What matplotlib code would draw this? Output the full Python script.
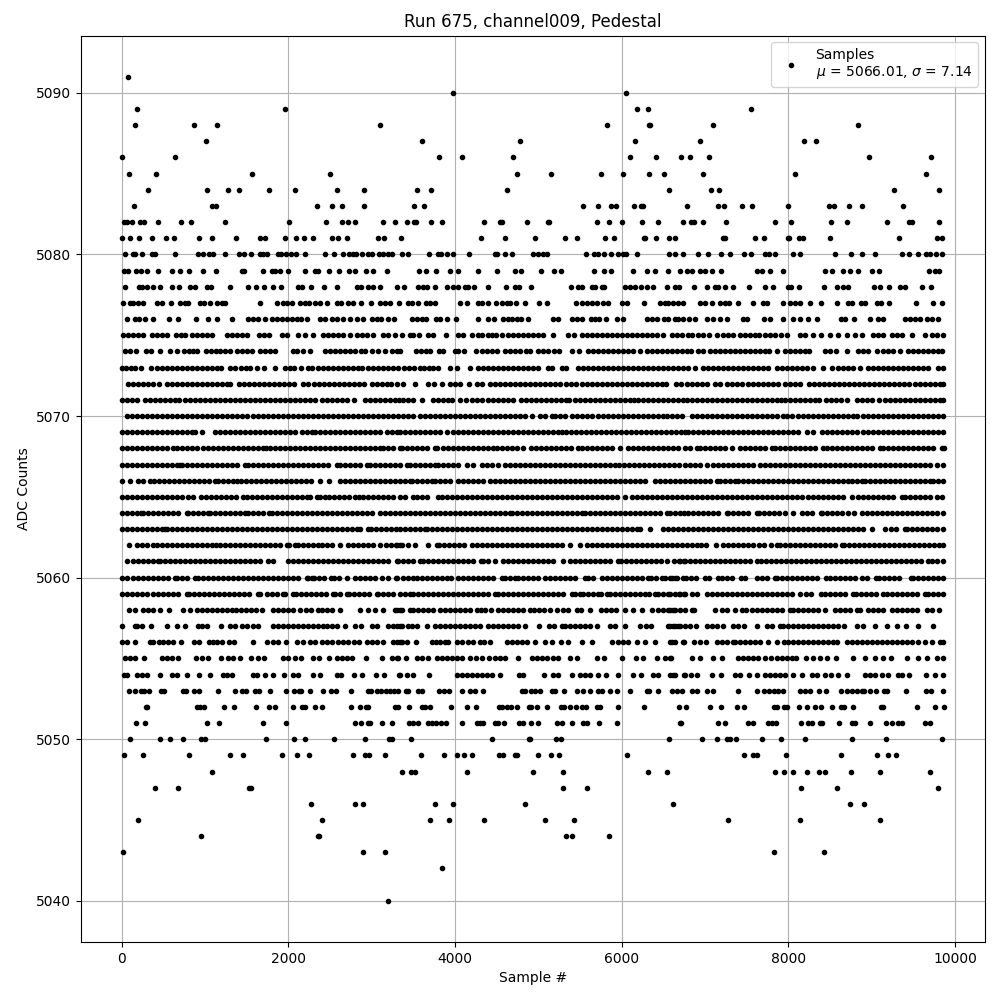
import numpy as np
import matplotlib
matplotlib.use("Agg")
import matplotlib.pyplot as plt

# Sample positions, one list per ADC level.
s5091 = [81]
s5090 = [3981, 6057]
s5089 = [189, 1965, 6189, 6321, 7557]
s5088 = [165, 873, 1149, 3105, 5829, 6333, 6345, 7101, 8841]
s5087 = [1017, 3609, 4785, 6165, 6945, 8193, 8337]
s5086 = [0, 645, 3813, 4089, 4701, 6105, 6417, 6717, 6825, 7053, 8973, 9717]
s5085 = [93, 417, 1569, 2505, 4749, 5157, 5757, 6021, 6333, 6513, 6981, 8085, 9657]
s5084 = [321, 1029, 1281, 1413, 1773, 2085, 2589, 2913, 3549, 3717, 4629, 6573, 7077, 7173, 9273, 9805]
s5083 = [153, 1089, 1137, 2349, 2529, 2649, 2913, 3513, 3633, 5541, 5721, 5877, 5937, 6153, 6237, 6261, 6789, 7161, 7233, 7449, 7569, 8001, 8493, 8553, 8733, 8889, 9381]
s5082 = [33, 61, 129, 225, 273, 441, 717, 837, 1245, 2013, 2457, 2649, 2721, 2805, 3141, 3277, 3429, 3513, 3537, 3717, 3849, 4353, 4545, 4569, 4869, 5121, 5129, 5709, 5853, 6009, 6249, 6441, 6741, 6837, 6873, 6981, 7257, 7845, 8037, 8517, 8709, 9189, 9453, 9489, 9813]
s5081 = [0, 105, 213, 369, 537, 633, 933, 1089, 1377, 1665, 1725, 1965, 2097, 2193, 2301, 2529, 2601, 2709, 3081, 3153, 3357, 4317, 4605, 4965, 5325, 5469, 5805, 5913, 6273, 6285, 6417, 6573, 6645, 7221, 7241, 7605, 7713, 8001, 8009, 8133, 8181, 8505, 9333, 9789, 9849]
s5080 = [45, 141, 165, 249, 369, 405, 645, 921, 981, 1053, 1101, 1245, 1413, 1473, 1557, 1665, 1701, 1749, 1881, 1917, 1977, 2037, 2097, 2205, 2445, 2553, 2661, 2733, 2781, 2817, 2889, 2961, 3009, 3093, 3141, 3201, 3249, 3369, 3441, 3693, 3801, 3837, 3909, 3981, 4173, 4485, 4509, 4605, 4689, 4941, 5001, 5061, 5109, 5577, 5673, 5721, 5793, 5877, 5961, 6021, 6057, 6189, 6573, 6645, 6741, 6921, 7041, 7197, 7305, 7473, 7557, 7725, 7773, 7845, 8061, 8145, 8565, 8757, 8889, 9045, 9369, 9453, 9561, 9657, 9705, 9777, 9849]
s5079 = [33, 81, 173, 237, 309, 441, 609, 705, 813, 981, 1137, 1449, 1473, 1701, 1809, 1845, 1905, 2001, 2205, 2325, 2361, 2493, 2613, 2733, 2805, 2937, 3021, 3189, 3573, 3657, 3777, 3945, 4041, 4281, 4509, 4725, 4797, 5037, 5193, 5277, 5673, 5793, 5877, 6141, 6309, 6405, 6561, 6705, 6789, 6849, 6945, 7005, 7089, 7197, 7629, 7689, 7785, 7941, 8445, 8529, 8661, 8745, 8841, 9009, 9093, 9693, 9765, 9813]
s5078 = [40, 212, 240, 308, 380, 460, 604, 684, 820, 880, 1028, 1076, 1304, 1512, 1608, 1712, 1820, 1916, 2120, 2160, 2276, 2432, 2580, 2820, 2868, 2960, 3020, 3100, 3308, 3392, 3552, 3620, 3660, 3764, 3900, 3980, 4040, 4120, 4152, 4232, 4400, 4616, 4720, 4768, 4916, 5392, 5480, 5528, 5640, 5680, 5760, 5792, 6040, 6100, 6160, 6228, 6308, 6380, 6540, 6640, 6688, 6872, 7020, 7120, 7160, 7240, 7340, 7532, 7720, 7820, 8000, 8028, 8132, 8432, 8580, 8660, 8720, 9028, 9100, 9212, 9340, 9400, 9600, 9708]
s5077 = [12, 100, 140, 200, 260, 428, 480, 588, 700, 760, 800, 940, 988, 1060, 1148, 1200, 1240, 1664, 1860, 1940, 1980, 2040, 2140, 2200, 2252, 2320, 2380, 2460, 2580, 2628, 2720, 2780, 2868, 2988, 3100, 3160, 3220, 3332, 3440, 3488, 3552, 3648, 3700, 3760, 4060, 4148, 4272, 4320, 4392, 4488, 4568, 4620, 4660, 4728, 4840, 5008, 5100, 5448, 5520, 5580, 5640, 5700, 5780, 5840, 6000, 6068, 6272, 6460, 6520, 6560, 6620, 6680, 6732, 6940, 7000, 7080, 7180, 7240, 7292, 7392, 7580, 7692, 7740, 7940, 8020, 8080, 8140, 8260, 8392, 8580, 8720, 8768, 8868, 8920, 9060, 9112, 9212, 9532, 9740, 9840]
s5076 = [68, 160, 212, 280, 380, 572, 680, 892, 1040, 1140, 1320, 1520, 1580, 1640, 1720, 1800, 1860, 1920, 1980, 2040, 2100, 2148, 2228, 2380, 2440, 2520, 2580, 2660, 2740, 2820, 2900, 3000, 3060, 3108, 3200, 3268, 3480, 3540, 3600, 3648, 3772, 3820, 3908, 4008, 4272, 4400, 4472, 4580, 4640, 4688, 4740, 4792, 4872, 5172, 5232, 5400, 5460, 5520, 5628, 5680, 5728, 5808, 5940, 6012, 6300, 6360, 6420, 6512, 6560, 6640, 6680, 6732, 6812, 6880, 7028, 7100, 7180, 7260, 7452, 7508, 7712, 7780, 7940, 8052, 8140, 8240, 8348, 8628, 8680, 8788, 8980, 9080, 9132, 9400, 9460, 9520, 9580, 9660, 9720, 9792]
s5075 = [20, 80, 140, 200, 260, 360, 420, 480, 548, 652, 708, 764, 840, 900, 960, 1020, 1080, 1260, 1320, 1380, 1440, 1508, 1652, 1708, 1772, 1920, 1988, 2120, 2200, 2292, 2420, 2480, 2540, 2600, 2660, 2740, 2820, 2880, 2948, 3020, 3132, 3200, 3280, 3360, 3460, 3500, 3572, 3672, 3740, 3888, 4032, 4100, 4208, 4272, 4328, 4392, 4448, 4492, 4568, 4640, 4700, 4760, 4820, 4880, 4940, 5000, 5052, 5180, 5352, 5432, 5520, 5580, 5640, 5700, 5760, 5820, 5880, 5940, 6000, 6060, 6120, 6180, 6240, 6300, 6360, 6420, 6492, 6600, 6660, 6720, 6800, 6840, 6920, 6980, 7052, 7148, 7220, 7280, 7340, 7420, 7480, 7540, 7600, 7652, 7720, 7780, 7840, 7908, 7988, 8140, 8200, 8292, 8388, 8500, 8600, 8700, 8800, 8880, 9020, 9080, 9140, 9240, 9300, 9360, 9480, 9640, 9720, 9780, 9860]
s5074 = [40, 100, 172, 292, 348, 460, 580, 660, 748, 808, 860, 908, 1008, 1068, 1128, 1180, 1240, 1300, 1380, 1440, 1500, 1560, 1660, 1720, 1780, 1840, 2052, 2108, 2172, 2260, 2440, 2500, 2560, 2620, 2680, 2740, 2800, 2868, 2920, 3000, 3080, 3160, 3240, 3300, 3340, 3528, 3592, 3648, 3700, 3808, 3860, 4000, 4040, 4112, 4248, 4320, 4380, 4440, 4500, 4600, 4660, 4720, 4780, 4848, 4900, 4992, 5060, 5120, 5192, 5248, 5400, 5492, 5592, 5660, 5720, 5780, 5840, 5900, 5960, 6020, 6080, 6140, 6220, 6300, 6360, 6420, 6480, 6540, 6600, 6660, 6720, 6780, 6828, 6920, 6980, 7060, 7120, 7180, 7240, 7300, 7360, 7420, 7480, 7540, 7600, 7660, 7720, 7772, 7860, 7960, 8020, 8080, 8140, 8200, 8252, 8440, 8500, 8568, 8700, 8840, 8900, 8960, 9068, 9140, 9200, 9260, 9340, 9440, 9500, 9560, 9620, 9680, 9740, 9800, 9840]
s5073 = [4, 52, 108, 160, 228, 348, 420, 480, 540, 600, 660, 720, 780, 840, 900, 960, 1020, 1080, 1140, 1188, 1300, 1360, 1428, 1488, 1540, 1628, 1708, 1840, 1960, 2020, 2068, 2148, 2240, 2280, 2360, 2420, 2480, 2540, 2600, 2660, 2720, 2780, 2840, 2880, 2960, 3020, 3080, 3140, 3200, 3260, 3320, 3392, 3452, 3512, 3580, 3632, 3692, 3740, 3800, 3940, 4020, 4184, 4280, 4340, 4400, 4460, 4520, 4580, 4640, 4700, 4760, 4820, 4880, 4940, 4992, 5112, 5160, 5280, 5332, 5480, 5540, 5600, 5660, 5720, 5780, 5840, 5900, 5960, 6020, 6080, 6140, 6200, 6260, 6320, 6380, 6440, 6500, 6560, 6620, 6680, 6740, 6800, 6880, 6980, 7040, 7100, 7160, 7220, 7280, 7340, 7400, 7460, 7520, 7580, 7640, 7700, 7760, 7860, 7920, 7980, 8040, 8100, 8160, 8220, 8300, 8420, 8520, 8600, 8660, 8720, 8780, 8860, 8960, 9020, 9080, 9140, 9200, 9260, 9320, 9380, 9440, 9500, 9560, 9620, 9680, 9800, 9860]
s5072 = [80, 140, 200, 260, 320, 372, 452, 540, 600, 660, 720, 780, 840, 900, 960, 1020, 1080, 1140, 1200, 1260, 1300, 1412, 1472, 1532, 1592, 1652, 1712, 1772, 1832, 1892, 1952, 2012, 2068, 2180, 2240, 2308, 2368, 2428, 2488, 2548, 2608, 2668, 2728, 2788, 2848, 2908, 3000, 3060, 3120, 3180, 3228, 3308, 3380, 3520, 3672, 3752, 3848, 3940, 4000, 4060, 4168, 4260, 4320, 4420, 4480, 4540, 4600, 4660, 4720, 4780, 4840, 4900, 4960, 5020, 5080, 5140, 5200, 5260, 5328, 5388, 5448, 5528, 5588, 5648, 5708, 5768, 5828, 5888, 5948, 6008, 6068, 6120, 6180, 6240, 6300, 6360, 6420, 6480, 6528, 6648, 6708, 6780, 6840, 6900, 6960, 7020, 7120, 7180, 7268, 7328, 7380, 7440, 7520, 7580, 7640, 7700, 7760, 7820, 7880, 7960, 8020, 8080, 8140, 8252, 8312, 8372, 8432, 8492, 8552, 8612, 8672, 8732, 8792, 8852, 8912, 8972, 9032, 9092, 9152, 9212, 9272, 9332, 9392, 9452, 9520, 9580, 9640, 9700, 9760, 9820, 9855]
s5071 = [0, 60, 120, 180, 280, 340, 400, 460, 520, 580, 640, 688, 760, 820, 880, 940, 1000, 1060, 1120, 1180, 1240, 1300, 1360, 1420, 1480, 1540, 1600, 1660, 1720, 1780, 1840, 1900, 1960, 2020, 2080, 2140, 2200, 2260, 2320, 2400, 2460, 2520, 2580, 2640, 2700, 2788, 2920, 2980, 3040, 3100, 3160, 3220, 3280, 3332, 3380, 3440, 3500, 3608, 3740, 3800, 3860, 3920, 3968, 4060, 4132, 4208, 4268, 4328, 4400, 4460, 4520, 4580, 4640, 4700, 4792, 4852, 4912, 4972, 5032, 5092, 5152, 5212, 5272, 5332, 5368, 5440, 5500, 5560, 5620, 5680, 5740, 5800, 5860, 5920, 5980, 6040, 6100, 6144, 6200, 6260, 6320, 6380, 6440, 6500, 6560, 6620, 6680, 6740, 6780, 6840, 6900, 6960, 7020, 7080, 7140, 7200, 7268, 7328, 7388, 7448, 7508, 7568, 7628, 7688, 7748, 7808, 7860, 7908, 7960, 8020, 8080, 8140, 8200, 8260, 8320, 8372, 8452, 8512, 8572, 8632, 8700, 8820, 8880, 8940, 9000, 9092, 9160, 9220, 9280, 9340, 9400, 9460, 9520, 9580, 9640, 9700, 9760, 9820, 9860]
s5070 = [60, 120, 180, 240, 300, 360, 420, 480, 540, 600, 660, 720, 780, 840, 900, 960, 1020, 1080, 1140, 1200, 1260, 1320, 1380, 1440, 1500, 1580, 1640, 1700, 1760, 1820, 1880, 1940, 2000, 2060, 2120, 2180, 2240, 2300, 2360, 2420, 2480, 2540, 2600, 2660, 2720, 2780, 2840, 2900, 2960, 3020, 3080, 3140, 3200, 3260, 3320, 3380, 3440, 3500, 3580, 3640, 3700, 3760, 3820, 3880, 3940, 4000, 4060, 4120, 4180, 4240, 4300, 4360, 4420, 4480, 4540, 4600, 4660, 4720, 4780, 4840, 4920, 5020, 5080, 5160, 5200, 5260, 5320, 5400, 5460, 5520, 5580, 5640, 5720, 5780, 5840, 5900, 5960, 6020, 6080, 6140, 6200, 6260, 6320, 6380, 6440, 6500, 6540, 6600, 6660, 6720, 6840, 6900, 6960, 7020, 7080, 7140, 7200, 7260, 7320, 7380, 7440, 7500, 7560, 7620, 7680, 7740, 7800, 7860, 7940, 7980, 8040, 8120, 8180, 8240, 8300, 8360, 8420, 8480, 8540, 8600, 8660, 8720, 8780, 8820, 8900, 8960, 9020, 9080, 9140, 9200, 9260, 9320, 9380, 9440, 9500, 9560, 9620, 9680, 9740, 9800, 9860]
s5069 = [0, 60, 120, 180, 240, 308, 360, 420, 480, 540, 600, 660, 720, 780, 840, 880, 960, 1120, 1180, 1240, 1300, 1360, 1420, 1480, 1540, 1600, 1660, 1720, 1780, 1840, 1900, 1960, 2020, 2080, 2160, 2220, 2280, 2320, 2380, 2440, 2500, 2560, 2620, 2680, 2740, 2800, 2860, 2920, 2980, 3040, 3100, 3180, 3240, 3300, 3340, 3400, 3460, 3520, 3580, 3640, 3700, 3760, 3820, 3900, 3980, 4040, 4100, 4160, 4220, 4280, 4340, 4400, 4460, 4520, 4580, 4640, 4700, 4760, 4820, 4880, 4940, 5000, 5060, 5120, 5180, 5240, 5280, 5328, 5388, 5448, 5508, 5568, 5628, 5688, 5748, 5808, 5868, 5928, 5988, 6048, 6108, 6168, 6228, 6288, 6348, 6408, 6468, 6528, 6588, 6648, 6708, 6760, 6800, 6860, 6920, 6980, 7040, 7100, 7160, 7220, 7280, 7340, 7400, 7460, 7520, 7580, 7640, 7700, 7760, 7820, 7880, 7940, 8000, 8060, 8120, 8220, 8292, 8400, 8460, 8520, 8580, 8640, 8700, 8760, 8820, 8900, 8960, 9020, 9080, 9140, 9200, 9260, 9320, 9380, 9440, 9500, 9560, 9620, 9680, 9740, 9800, 9860]
s5068 = [0, 60, 120, 180, 240, 300, 360, 420, 480, 540, 620, 660, 720, 780, 840, 908, 980, 1040, 1100, 1160, 1220, 1280, 1332, 1392, 1452, 1512, 1572, 1632, 1692, 1732, 1780, 1840, 1900, 1960, 2020, 2080, 2140, 2200, 2260, 2320, 2380, 2440, 2500, 2560, 2620, 2680, 2740, 2800, 2860, 2920, 2980, 3040, 3100, 3140, 3200, 3260, 3340, 3368, 3428, 3488, 3548, 3608, 3668, 3760, 3780, 3860, 3920, 3980, 4040, 4100, 4160, 4220, 4280, 4340, 4400, 4460, 4500, 4560, 4620, 4680, 4740, 4820, 4912, 4972, 5032, 5092, 5152, 5212, 5272, 5332, 5392, 5480, 5528, 5588, 5648, 5708, 5760, 5820, 5880, 5980, 6072, 6132, 6192, 6252, 6312, 6372, 6432, 6492, 6552, 6612, 6672, 6760, 6820, 6900, 6940, 7000, 7060, 7120, 7180, 7240, 7320, 7420, 7480, 7540, 7600, 7660, 7720, 7800, 7840, 7900, 7960, 8020, 8080, 8140, 8200, 8260, 8320, 8420, 8460, 8520, 8580, 8640, 8700, 8760, 8820, 8880, 8940, 9000, 9100, 9140, 9200, 9260, 9320, 9380, 9440, 9500, 9560, 9620, 9680, 9740, 9840, 9868]
s5067 = [0, 60, 120, 180, 240, 300, 360, 420, 480, 540, 600, 660, 700, 720, 780, 840, 900, 960, 1020, 1080, 1140, 1200, 1260, 1320, 1380, 1480, 1520, 1580, 1640, 1700, 1760, 1820, 1880, 1940, 2000, 2060, 2120, 2180, 2240, 2300, 2360, 2420, 2480, 2580, 2620, 2680, 2740, 2800, 2860, 2940, 2980, 3040, 3100, 3160, 3220, 3280, 3340, 3420, 3460, 3520, 3580, 3640, 3700, 3760, 3800, 3860, 3920, 3980, 4040, 4140, 4220, 4320, 4380, 4440, 4520, 4600, 4660, 4720, 4780, 4840, 4900, 4960, 5020, 5080, 5140, 5200, 5260, 5320, 5380, 5440, 5500, 5560, 5620, 5680, 5740, 5800, 5860, 5920, 5968, 6028, 6088, 6148, 6208, 6268, 6328, 6388, 6448, 6508, 6568, 6628, 6688, 6760, 6820, 6880, 6940, 7020, 7100, 7160, 7220, 7280, 7340, 7400, 7460, 7520, 7580, 7660, 7720, 7780, 7840, 7900, 7960, 8020, 8080, 8140, 8200, 8260, 8320, 8380, 8440, 8500, 8560, 8620, 8680, 8740, 8800, 8860, 8920, 8980, 9040, 9100, 9160, 9220, 9280, 9340, 9400, 9460, 9520, 9580, 9640, 9700, 9780, 9852]
s5066 = [0, 100, 200, 260, 340, 390, 450, 510, 570, 630, 690, 750, 810, 870, 930, 990, 1050, 1120, 1150, 1210, 1270, 1330, 1380, 1430, 1490, 1550, 1610, 1670, 1730, 1790, 1850, 1910, 1970, 2030, 2090, 2150, 2210, 2270, 2380, 2490, 2620, 2680, 2740, 2800, 2860, 2920, 2980, 3040, 3100, 3160, 3220, 3280, 3340, 3400, 3460, 3480, 3540, 3600, 3660, 3720, 3760, 3820, 3880, 3940, 4040, 4100, 4160, 4220, 4280, 4340, 4420, 4480, 4540, 4600, 4660, 4720, 4780, 4840, 4900, 4960, 5020, 5080, 5140, 5200, 5260, 5320, 5380, 5440, 5500, 5560, 5620, 5680, 5740, 5800, 5860, 5920, 5980, 6040, 6100, 6160, 6220, 6280, 6400, 6460, 6520, 6580, 6640, 6700, 6760, 6820, 6880, 6940, 7000, 7060, 7140, 7180, 7240, 7300, 7360, 7400, 7460, 7520, 7580, 7640, 7700, 7760, 7820, 7880, 7940, 8000, 8060, 8120, 8180, 8240, 8300, 8360, 8420, 8480, 8540, 8600, 8660, 8720, 8760, 8820, 8880, 8920, 8980, 9040, 9100, 9160, 9220, 9280, 9340, 9400, 9460, 9520, 9580, 9640, 9700, 9740, 9800, 9860]
s5065 = [0, 60, 120, 180, 240, 300, 360, 420, 480, 540, 600, 660, 720, 790, 850, 950, 1010, 1070, 1130, 1190, 1250, 1310, 1370, 1460, 1500, 1560, 1620, 1680, 1740, 1800, 1860, 1920, 1980, 2040, 2100, 2160, 2220, 2260, 2340, 2380, 2440, 2490, 2550, 2610, 2670, 2730, 2800, 2850, 2900, 2960, 3020, 3080, 3140, 3200, 3260, 3340, 3400, 3500, 3540, 3600, 3660, 3790, 3840, 3900, 3960, 4020, 4080, 4140, 4200, 4260, 4320, 4380, 4440, 4500, 4560, 4620, 4680, 4740, 4800, 4860, 4920, 4980, 5040, 5100, 5160, 5220, 5280, 5340, 5400, 5460, 5520, 5580, 5640, 5700, 5760, 5820, 5880, 5940, 6040, 6120, 6180, 6240, 6300, 6360, 6420, 6480, 6540, 6600, 6660, 6720, 6780, 6850, 6910, 6970, 7030, 7090, 7150, 7210, 7270, 7330, 7390, 7450, 7510, 7570, 7630, 7690, 7750, 7810, 7870, 7930, 7990, 8050, 8110, 8170, 8240, 8300, 8360, 8420, 8480, 8540, 8600, 8660, 8770, 8840, 8900, 8960, 9020, 9080, 9140, 9200, 9260, 9360, 9400, 9460, 9520, 9580, 9640, 9700, 9780, 9850]
s5064 = [0, 60, 120, 180, 230, 260, 320, 380, 440, 500, 560, 620, 680, 780, 800, 860, 920, 980, 1040, 1060, 1120, 1180, 1240, 1300, 1360, 1420, 1480, 1520, 1580, 1640, 1700, 1770, 1800, 1860, 1920, 1980, 2040, 2100, 2160, 2220, 2280, 2340, 2400, 2460, 2520, 2580, 2640, 2700, 2760, 2820, 2880, 2940, 3000, 3100, 3160, 3220, 3280, 3340, 3400, 3460, 3520, 3580, 3640, 3700, 3760, 3820, 3880, 3940, 4000, 4060, 4120, 4180, 4240, 4300, 4360, 4420, 4480, 4540, 4600, 4660, 4680, 4740, 4800, 4860, 4920, 4980, 5040, 5100, 5160, 5220, 5280, 5340, 5400, 5460, 5520, 5560, 5620, 5680, 5740, 5800, 5860, 5920, 5980, 6040, 6100, 6160, 6220, 6280, 6340, 6400, 6460, 6540, 6580, 6640, 6700, 6750, 6800, 6860, 6920, 6980, 7040, 7100, 7160, 7260, 7280, 7340, 7400, 7460, 7520, 7630, 7650, 7710, 7770, 7830, 7890, 7960, 8060, 8170, 8230, 8290, 8390, 8410, 8470, 8530, 8590, 8650, 8720, 8790, 8890, 8940, 9000, 9060, 9120, 9180, 9240, 9300, 9360, 9420, 9480, 9540, 9600, 9660, 9720, 9780, 9860]
s5063 = [0, 60, 120, 180, 240, 300, 360, 420, 480, 520, 540, 600, 660, 720, 780, 840, 900, 960, 1020, 1080, 1140, 1200, 1260, 1320, 1380, 1440, 1500, 1560, 1620, 1680, 1740, 1800, 1860, 1920, 1980, 2040, 2100, 2160, 2220, 2280, 2340, 2400, 2460, 2520, 2580, 2640, 2700, 2760, 2820, 2860, 2960, 2990, 3050, 3110, 3170, 3230, 3290, 3340, 3400, 3460, 3520, 3580, 3640, 3660, 3720, 3780, 3840, 3900, 3960, 4020, 4080, 4140, 4200, 4260, 4320, 4380, 4440, 4500, 4560, 4620, 4680, 4740, 4800, 4860, 4920, 4980, 5040, 5100, 5160, 5220, 5280, 5340, 5400, 5460, 5520, 5580, 5640, 5700, 5760, 5820, 5880, 5940, 6000, 6060, 6120, 6180, 6220, 6340, 6500, 6560, 6620, 6680, 6740, 6800, 6860, 6920, 6980, 7040, 7100, 7160, 7220, 7280, 7340, 7400, 7460, 7520, 7580, 7640, 7700, 7760, 7820, 7880, 7940, 8000, 8060, 8120, 8180, 8240, 8300, 8360, 8420, 8480, 8540, 8600, 8660, 8720, 8780, 8840, 8900, 9000, 9160, 9230, 9290, 9400, 9430, 9490, 9550, 9610, 9670, 9730, 9790, 9860]
s5062 = [90, 180, 240, 300, 380, 420, 480, 540, 600, 660, 720, 780, 840, 900, 960, 1020, 1080, 1130, 1180, 1240, 1300, 1360, 1420, 1480, 1540, 1600, 1660, 1720, 1780, 1840, 1900, 1980, 2010, 2080, 2120, 2180, 2240, 2300, 2360, 2400, 2460, 2520, 2620, 2710, 2780, 2830, 2890, 2950, 3010, 3100, 3170, 3230, 3290, 3340, 3300, 3360, 3430, 3520, 3670, 3780, 3810, 3870, 3930, 3990, 4050, 4110, 4200, 4260, 4320, 4380, 4440, 4500, 4560, 4620, 4680, 4740, 4800, 4860, 4920, 4980, 5040, 5100, 5160, 5220, 5280, 5380, 5500, 5580, 5640, 5700, 5760, 5820, 5880, 5940, 6000, 6060, 6120, 6180, 6240, 6300, 6360, 6420, 6480, 6540, 6600, 6660, 6720, 6780, 6840, 6900, 6950, 7010, 7130, 7220, 7280, 7340, 7400, 7460, 7520, 7580, 7650, 7710, 7790, 7860, 7900, 7960, 8020, 8080, 8140, 8200, 8260, 8320, 8380, 8440, 8500, 8560, 8640, 8670, 8730, 8790, 8850, 8910, 8970, 9030, 9090, 9150, 9210, 9270, 9330, 9390, 9450, 9510, 9570, 9630, 9690, 9750, 9810, 9860]
s5061 = [70, 130, 190, 250, 310, 370, 440, 460, 520, 580, 640, 700, 760, 820, 880, 940, 1000, 1060, 1120, 1180, 1240, 1300, 1360, 1420, 1480, 1540, 1600, 1660, 1750, 1820, 2000, 2060, 2120, 2180, 2240, 2300, 2360, 2420, 2480, 2540, 2600, 2660, 2720, 2780, 2840, 2900, 2960, 3020, 3080, 3140, 3200, 3300, 3320, 3380, 3440, 3500, 3580, 3610, 3670, 3730, 3790, 3850, 3910, 3970, 4030, 4090, 4150, 4210, 4310, 4340, 4400, 4480, 4570, 4640, 4700, 4760, 4820, 4880, 4940, 5000, 5060, 5120, 5180, 5290, 5380, 5440, 5500, 5560, 5620, 5680, 5740, 5800, 5860, 5950, 5990, 6050, 6110, 6170, 6230, 6290, 6350, 6410, 6470, 6550, 6630, 6700, 6760, 6690, 6750, 6820, 6880, 6940, 7000, 7060, 7120, 7180, 7240, 7300, 7360, 7420, 7480, 7540, 7620, 7670, 7730, 7790, 7850, 7910, 7970, 8030, 8090, 8150, 8210, 8270, 8330, 8390, 8450, 8510, 8570, 8630, 8690, 8750, 8810, 8870, 8930, 8990, 9050, 9110, 9170, 9230, 9290, 9350, 9410, 9470, 9530, 9590, 9680, 9720, 9780, 9860]
s5060 = [0, 70, 130, 190, 250, 310, 370, 430, 490, 550, 640, 660, 720, 780, 880, 920, 980, 1040, 1100, 1160, 1220, 1280, 1340, 1400, 1460, 1520, 1580, 1630, 1690, 1750, 1810, 1870, 1930, 1990, 2050, 2110, 2220, 2240, 2280, 2310, 2370, 2430, 2510, 2550, 2610, 2700, 2800, 2860, 2920, 2980, 3040, 3120, 3200, 3290, 3300, 3380, 3440, 3490, 3540, 3600, 3660, 3720, 3780, 3840, 3900, 3950, 4040, 4100, 4160, 4220, 4280, 4340, 4400, 4460, 4560, 4600, 4660, 4720, 4750, 4810, 4870, 4930, 4990, 5080, 5140, 5200, 5260, 5320, 5380, 5440, 5560, 5590, 5650, 5760, 5820, 5880, 5940, 6000, 6060, 6120, 6180, 6240, 6320, 6350, 6410, 6480, 6520, 6580, 6640, 6740, 6600, 6660, 6770, 6830, 6890, 7000, 7050, 7160, 7210, 7270, 7330, 7430, 7480, 7620, 7680, 7740, 7840, 7870, 7930, 7980, 8040, 8100, 8160, 8220, 8280, 8340, 8450, 8500, 8560, 8620, 8680, 8740, 8800, 8890, 8940, 9050, 9090, 9150, 9210, 9270, 9330, 9470, 9500, 9560, 9620, 9680, 9740, 9800, 9860]
s5059 = [0, 60, 120, 180, 240, 300, 380, 430, 490, 550, 610, 670, 780, 810, 870, 930, 990, 1050, 1110, 1170, 1230, 1290, 1350, 1410, 1470, 1530, 1640, 1660, 1740, 1800, 1860, 1930, 1960, 2060, 2090, 2150, 2210, 2270, 2330, 2390, 2450, 2530, 2560, 2620, 2700, 2730, 2790, 2850, 2910, 2970, 3060, 3080, 3140, 3200, 3260, 3340, 3400, 3460, 3490, 3550, 3610, 3670, 3730, 3790, 3850, 3910, 3970, 4030, 4090, 4150, 4210, 4270, 4330, 4390, 4480, 4520, 4580, 4640, 4700, 4760, 4810, 4870, 4930, 4990, 5050, 5110, 5170, 5230, 5290, 5400, 5440, 5500, 5530, 5590, 5650, 5720, 5750, 5820, 5860, 5920, 5980, 6040, 6100, 6160, 6220, 6280, 6330, 6400, 6440, 6500, 6560, 6640, 6700, 6760, 6580, 6690, 6750, 6850, 6910, 7020, 7080, 7140, 7200, 7260, 7320, 7380, 7440, 7500, 7560, 7620, 7680, 7740, 7800, 7860, 7920, 7980, 8040, 8140, 8210, 8270, 8390, 8440, 8500, 8560, 8620, 8680, 8780, 8810, 8870, 8930, 8990, 9050, 9140, 9190, 9250, 9310, 9370, 9430, 9490, 9550, 9640, 9680, 9740, 9800, 9860]
s5058 = [92, 160, 260, 320, 380, 460, 572, 740, 820, 908, 960, 1020, 1080, 1140, 1200, 1260, 1320, 1372, 1432, 1492, 1552, 1612, 1680, 1812, 1872, 1932, 1992, 2052, 2140, 2212, 2272, 2360, 2400, 2460, 2520, 2620, 2860, 2960, 3040, 3140, 3280, 3340, 3300, 3360, 3460, 3500, 3560, 3620, 3680, 3740, 3820, 3880, 3940, 4000, 4060, 4120, 4180, 4260, 4312, 4360, 4432, 4520, 4580, 4640, 4700, 4760, 4820, 4900, 4952, 5012, 5072, 5140, 5220, 5300, 5360, 5460, 5512, 5620, 5752, 5812, 5872, 5932, 6040, 6140, 6240, 6360, 6440, 6500, 6560, 6620, 6700, 6580, 6640, 6760, 6840, 6868, 7120, 7210, 7270, 7360, 7440, 7490, 7560, 7620, 7680, 7740, 7800, 7860, 7920, 8020, 8060, 8120, 8180, 8240, 8300, 8360, 8440, 8560, 8620, 8680, 8740, 8820, 8860, 8960, 9020, 9080, 9140, 9240, 9300, 9360, 9420, 9480, 9540, 9660, 9720, 9810]
s5057 = [0, 160, 180, 248, 348, 548, 660, 764, 920, 960, 1020, 1196, 1300, 1360, 1440, 1500, 1580, 1640, 1820, 1880, 1940, 2000, 2060, 2120, 2180, 2240, 2300, 2360, 2420, 2460, 2520, 2580, 2680, 2800, 2868, 3000, 3060, 3200, 3260, 3340, 3300, 3360, 3440, 3480, 3540, 3660, 3760, 3820, 3880, 3940, 4000, 4060, 4120, 4180, 4240, 4300, 4400, 4460, 4520, 4580, 4640, 4700, 4760, 4840, 5012, 5128, 5190, 5280, 5320, 5380, 5440, 5500, 5560, 5620, 5708, 5860, 5920, 6040, 6220, 6290, 6352, 6560, 6620, 6680, 6760, 6580, 6640, 6700, 6820, 6888, 7020, 7080, 7140, 7220, 7340, 7400, 7468, 7628, 7740, 7800, 7900, 7940, 8000, 8060, 8120, 8180, 8240, 8300, 8360, 8420, 8480, 8540, 8600, 8668, 8820, 8892, 9040, 9180, 9300, 9412, 9560, 9740]
s5056 = [0, 60, 160, 340, 380, 444, 500, 560, 620, 708, 868, 932, 1052, 1100, 1140, 1208, 1292, 1348, 1580, 1740, 1812, 1880, 1968, 2108, 2180, 2260, 2324, 2400, 2460, 2520, 2600, 2660, 2720, 2790, 2852, 2940, 3000, 3060, 3140, 3252, 3340, 3300, 3360, 3420, 3528, 3720, 3768, 3820, 3880, 3920, 4020, 4080, 4150, 4220, 4300, 4352, 4420, 4620, 4680, 4740, 4800, 4860, 4960, 5080, 5168, 5272, 5360, 5520, 5640, 5880, 5960, 6020, 6080, 6180, 6280, 6400, 6580, 6640, 6740, 6600, 6752, 6868, 6940, 7012, 7140, 7200, 7260, 7340, 7360, 7420, 7480, 7540, 7600, 7660, 7760, 7860, 7948, 8000, 8060, 8120, 8180, 8240, 8300, 8360, 8420, 8480, 8540, 8588, 8700, 8760, 8820, 8880, 8940, 9000, 9060, 9120, 9180, 9240, 9300, 9360, 9420, 9480, 9560, 9640, 9720, 9820, 9860]
s5055 = [40, 100, 160, 268, 480, 540, 600, 680, 892, 960, 1040, 1192, 1280, 1340, 1420, 1552, 1640, 1708, 1940, 2000, 2080, 2148, 2300, 2372, 2492, 2580, 2640, 2700, 2760, 2932, 3128, 3240, 3320, 3300, 3408, 3540, 3600, 3680, 3780, 3840, 3900, 3960, 4020, 4080, 4180, 4248, 4328, 4408, 4480, 4540, 4600, 4752, 4928, 4980, 5040, 5100, 5170, 5240, 5380, 5460, 5708, 5792, 6008, 6168, 6260, 6420, 6520, 6592, 6580, 6840, 6940, 7100, 7200, 7400, 7460, 7520, 7580, 7640, 7720, 7788, 7860, 7920, 7980, 8040, 8092, 8212, 8300, 8380, 8468, 8572, 8772, 8924, 9040, 9140, 9228, 9420, 9560, 9668, 9780, 9852]
s5054 = [28, 68, 188, 240, 300, 460, 600, 668, 788, 932, 1060, 1220, 1268, 1320, 1572, 1628, 1720, 1820, 1948, 2052, 2120, 2300, 2380, 2580, 2628, 2792, 2880, 3048, 3148, 3332, 3340, 3420, 3500, 3692, 4020, 4080, 4140, 4200, 4260, 4320, 4380, 4440, 4544, 4768, 4820, 5068, 5180, 5232, 5400, 5500, 5560, 5620, 5720, 5808, 5960, 6140, 6232, 6380, 6432, 6580, 6640, 6752, 6620, 6760, 6830, 6900, 7088, 7192, 7360, 7420, 7528, 7620, 7720, 7780, 7840, 7900, 7960, 8060, 8168, 8280, 8340, 8440, 8508, 8600, 8700, 8920, 8980, 9040, 9120, 9200, 9320, 9360, 9452, 9652, 9760, 9852]
s5053 = [93, 165, 237, 273, 333, 477, 513, 741, 777, 873, 933, 1161, 1365, 1449, 1497, 1605, 1653, 1785, 1977, 2073, 2133, 2157, 2265, 2421, 2517, 2577, 2757, 2961, 2997, 3069, 3117, 3177, 3225, 3273, 3321, 3417, 3441, 3561, 3609, 3813, 3873, 3933, 4089, 4185, 4245, 4341, 4809, 4845, 4917, 4965, 5025, 5169, 5205, 5313, 5469, 5541, 5625, 5721, 5769, 5865, 5949, 6105, 6309, 6333, 6441, 6609, 6669, 6729, 6849, 6909, 7029, 7101, 7401, 7629, 7713, 7773, 7833, 7881, 7941, 8145, 8205, 8265, 8373, 8457, 8637, 8709, 8769, 8829, 8889, 8913, 8985, 9057, 9153, 9189, 9417, 9657, 9717, 9861]
s5052 = [297, 305, 909, 945, 993, 1233, 1353, 1617, 1773, 1845, 2061, 2169, 2205, 2325, 2409, 2757, 2865, 2937, 2961, 3285, 3321, 3453, 3609, 3645, 3705, 3957, 4149, 4257, 4533, 4569, 4629, 4677, 4749, 4893, 4917, 4989, 5109, 5277, 5313, 5385, 5457, 5529, 5577, 5709, 5745, 5961, 6273, 6693, 6777, 7065, 7197, 7389, 7473, 7833, 7869, 7953, 7989, 8133, 8229, 8325, 8397, 8529, 8637, 8673, 8781, 9117, 9141, 9549, 9765, 9863]
s5051 = [177, 285, 1029, 1173, 1701, 1977, 2805, 2877, 2961, 2985, 3129, 3249, 3453, 3501, 3561, 3681, 3729, 3777, 3837, 3897, 4089, 4269, 4305, 4341, 4485, 4521, 4593, 4773, 4821, 4917, 5001, 5229, 5289, 5409, 5541, 5589, 5733, 5949, 6701, 6713, 7161, 7245, 7521, 7581, 7761, 7809, 7857, 8157, 8241, 8289, 8385, 8409, 8613, 8769, 8805, 8985, 9177, 9249, 9321, 9369, 9645, 9705]
s5050 = [105, 465, 585, 741, 957, 1005, 1737, 2073, 2205, 2553, 2925, 3213, 3249, 3477, 4449, 4893, 4905, 5217, 5277, 6573, 6969, 7149, 7269, 7305, 7377, 7689, 7917, 8205, 8769, 9177, 9849]
s5049 = [33, 261, 813, 1305, 1461, 1929, 2109, 2253, 2781, 2925, 2973, 3165, 3597, 3873, 4029, 4113, 4209, 4533, 4581, 4725, 4749, 5001, 5157, 5253, 6069, 7473, 7581, 7629, 7977, 8637, 9069, 9201, 9297]
s5048 = [1089, 3369, 3477, 3525, 4149, 4941, 5301, 6321, 6549, 7845, 7953, 8061, 8229, 8373, 8445, 8757, 9105, 9705]
s5047 = [405, 681, 1533, 1549, 5301, 5589, 8157, 8589, 9801]
s5046 = [2277, 2805, 2901, 3765, 3981, 4845, 6621, 8745, 8913]
s5045 = [201, 2409, 3705, 3933, 4353, 5085, 5433, 7281, 8145, 9105]
s5044 = [957, 2361, 2369, 5337, 5409, 5853]
s5043 = [21, 2901, 3165, 7833, 8433]
s5042 = [3849]
s5040 = [3201]

levels = {
    5091: s5091, 5090: s5090, 5089: s5089, 5088: s5088, 5087: s5087, 5086: s5086,
    5085: s5085, 5084: s5084, 5083: s5083, 5082: s5082, 5081: s5081, 5080: s5080,
    5079: s5079, 5078: s5078, 5077: s5077, 5076: s5076, 5075: s5075, 5074: s5074,
    5073: s5073, 5072: s5072, 5071: s5071, 5070: s5070, 5069: s5069, 5068: s5068,
    5067: s5067, 5066: s5066, 5065: s5065, 5064: s5064, 5063: s5063, 5062: s5062,
    5061: s5061, 5060: s5060, 5059: s5059, 5058: s5058, 5057: s5057, 5056: s5056,
    5055: s5055, 5054: s5054, 5053: s5053, 5052: s5052, 5051: s5051, 5050: s5050,
    5049: s5049, 5048: s5048, 5047: s5047, 5046: s5046, 5045: s5045, 5044: s5044,
    5043: s5043, 5042: s5042, 5040: s5040,
}
legend_label = "Samples\n$\\mu$ = 5066.01, $\\sigma$ = 7.14"

x = np.concatenate([np.asarray(v, dtype=float) for v in levels.values()])
y = np.concatenate([np.full(len(v), k, dtype=float) for k, v in levels.items()])

fig = plt.figure(figsize=(10, 10), dpi=100)
ax = fig.add_axes([0.081, 0.058, 0.904, 0.9065])
ax.plot(x, y, linestyle="none", marker=".", color="black", label=legend_label, zorder=2)
ax.set_xlim(-488, 10360)
ax.set_title("Run 675, channel009, Pedestal")
ax.set_xlabel("Sample #")
ax.set_ylabel("ADC Counts")
ax.ticklabel_format(useOffset=False, style="plain")
ax.grid(True)
ax.legend(loc="upper right")
fig.savefig("out.png", dpi=100)
